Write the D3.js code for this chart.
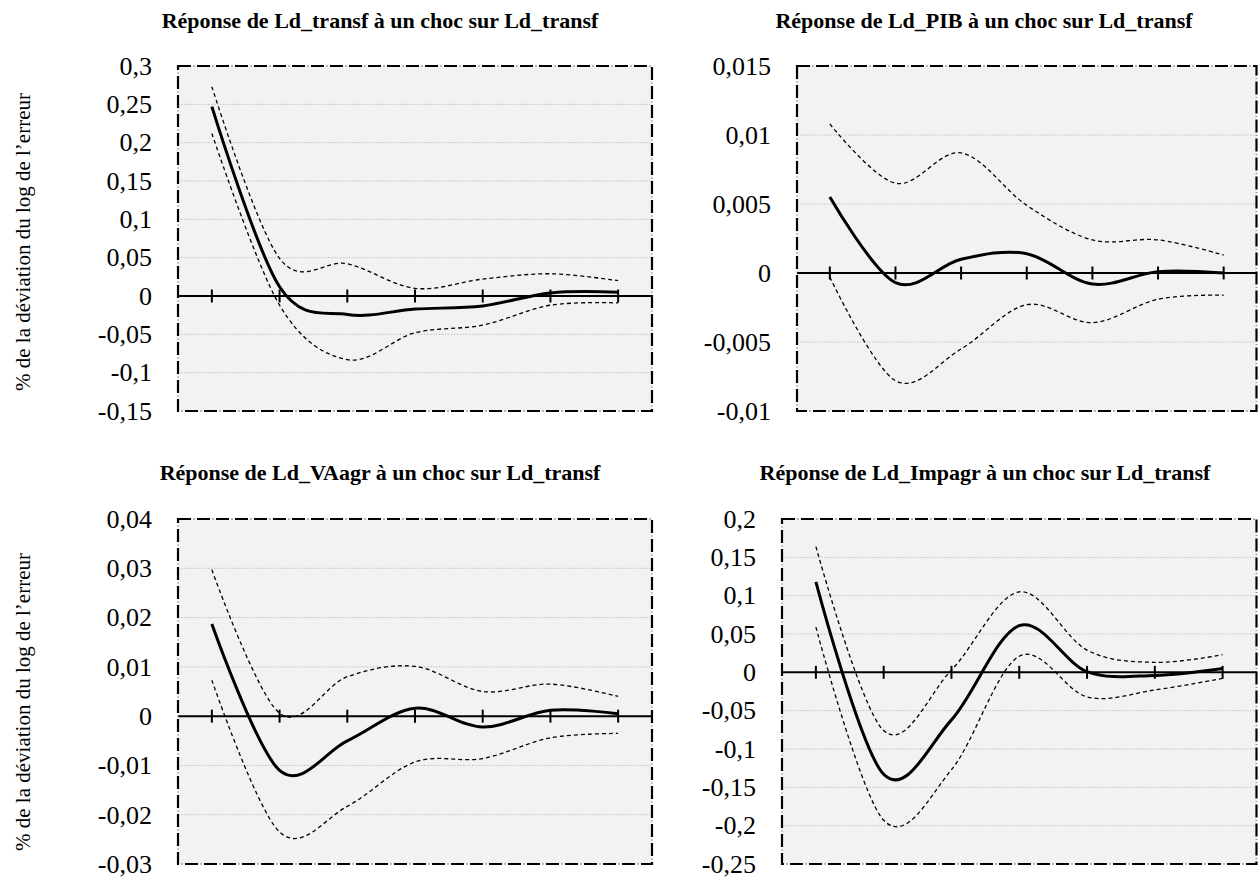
<!DOCTYPE html>
<html>
<head>
<meta charset="utf-8">
<script src="https://cdn.jsdelivr.net/npm/d3@7"></script>
<style>
  html, body { margin: 0; padding: 0; background: #ffffff; }
  svg { display: block; }
</style>
</head>
<body>
<svg id="chart" width="1258" height="880"></svg>
<script>
// ---------- DATA ----------
const periods = [1, 2, 3, 4, 5, 6, 7];

const titles = [
  "Réponse de Ld_transf à un choc sur Ld_transf",
  "Réponse de Ld_PIB à un choc sur Ld_transf",
  "Réponse de Ld_VAagr à un choc sur Ld_transf",
  "Réponse de Ld_Impagr à un choc sur Ld_transf"
];

const yAxisTitle = "% de la déviation du log de l’erreur";

const yTicksTransf  = [-0.15, -0.1, -0.05, 0, 0.05, 0.1, 0.15, 0.2, 0.25, 0.3];
const yTicksPIB     = [-0.01, -0.005, 0, 0.005, 0.01, 0.015];
const yTicksVAagr   = [-0.03, -0.02, -0.01, 0, 0.01, 0.02, 0.03, 0.04];
const yTicksImpagr  = [-0.25, -0.2, -0.15, -0.1, -0.05, 0, 0.05, 0.1, 0.15, 0.2];

// Réponse de Ld_transf
const transfIrf   = [0.247, 0.012, -0.024, -0.017, -0.013, 0.004, 0.005];
const transfUpper = [0.273, 0.049, 0.042, 0.010, 0.022, 0.029, 0.020];
const transfLower = [0.212, -0.012, -0.083, -0.048, -0.038, -0.012, -0.009];

// Réponse de Ld_PIB
const pibIrf   = [0.0055, -0.0007, 0.0010, 0.0014, -0.0008, 0.0001, 0.0000];
const pibUpper = [0.0108, 0.0065, 0.0087, 0.0049, 0.0024, 0.0024, 0.0013];
const pibLower = [-0.0003, -0.0078, -0.0055, -0.0023, -0.0036, -0.0019, -0.0016];

// Réponse de Ld_VAagr
const vaagrIrf   = [0.0187, -0.0110, -0.0050, 0.0016, -0.0022, 0.0012, 0.0005];
const vaagrUpper = [0.0297, 0.0006, 0.0080, 0.0101, 0.0050, 0.0065, 0.0040];
const vaagrLower = [0.0073, -0.0235, -0.0183, -0.0093, -0.0086, -0.0044, -0.0035];

// Réponse de Ld_Impagr
const impagrIrf   = [0.118, -0.133, -0.062, 0.061, 0.001, -0.004, 0.005];
const impagrUpper = [0.164, -0.076, 0.003, 0.105, 0.029, 0.013, 0.023];
const impagrLower = [0.059, -0.193, -0.127, 0.021, -0.032, -0.023, -0.008];

// ---------- LAYOUT ----------
const panels = [
  { title: titles[0], ticks: yTicksTransf, irf: transfIrf, up: transfUpper, lo: transfLower,
    box: { x0: 178, x1: 652, y0: 66, y1: 411 }, titleX: 380, titleY: 28, axisTitle: { x: 30, y: 242 } },
  { title: titles[1], ticks: yTicksPIB, irf: pibIrf, up: pibUpper, lo: pibLower,
    box: { x0: 797, x1: 1256.5, y0: 66, y1: 411 }, titleX: 984, titleY: 28, axisTitle: null },
  { title: titles[2], ticks: yTicksVAagr, irf: vaagrIrf, up: vaagrUpper, lo: vaagrLower,
    box: { x0: 178, x1: 652, y0: 519, y1: 864 }, titleX: 380, titleY: 480, axisTitle: { x: 30, y: 702 } },
  { title: titles[3], ticks: yTicksImpagr, irf: impagrIrf, up: impagrUpper, lo: impagrLower,
    box: { x0: 782, x1: 1256.5, y0: 519, y1: 864 }, titleX: 985, titleY: 480, axisTitle: null }
];

const svg = d3.select("#chart");
const serif = "'Liberation Serif', 'Times New Roman', serif";
const fr = d3.formatLocale({ decimal: ",", thousands: " ", grouping: [3], currency: ["", " €"], minus: "-" });
const fmt = fr.format("~g");

panels.forEach(p => {
  const b = p.box;
  const g = svg.append("g");
  const x = d3.scalePoint().domain(periods).range([b.x0, b.x1]).padding(0.5);
  const y = d3.scaleLinear().domain(d3.extent(p.ticks)).range([b.y1, b.y0]);

  // plot area
  g.append("rect")
    .attr("x", b.x0).attr("y", b.y0)
    .attr("width", b.x1 - b.x0).attr("height", b.y1 - b.y0)
    .attr("fill", "#f2f2f2");

  // gridlines
  g.append("g").selectAll("line")
    .data(p.ticks.filter(t => t !== 0 && t !== d3.min(p.ticks) && t !== d3.max(p.ticks)))
    .join("line")
    .attr("x1", b.x0).attr("x2", b.x1)
    .attr("y1", d => y(d)).attr("y2", d => y(d))
    .attr("stroke", "#bfbfbf").attr("stroke-width", 1)
    .attr("stroke-dasharray", "1.5,1.5");

  // y axis labels
  const yAxis = d3.axisLeft(y).tickValues(p.ticks).tickFormat(fmt).tickSize(0).tickPadding(26);
  const ya = g.append("g").attr("transform", `translate(${b.x0},0)`).call(yAxis);
  ya.select(".domain").remove();
  ya.attr("font-family", null).attr("font-size", null);
  ya.selectAll("text")
    .style("font-family", serif).style("font-size", "26px").attr("fill", "#000");

  // horizontal axis at zero with cross ticks
  const y0 = y(0);
  g.append("line")
    .attr("x1", b.x0).attr("x2", b.x1).attr("y1", y0).attr("y2", y0)
    .attr("stroke", "#000").attr("stroke-width", 2);
  g.append("g").selectAll("line").data(periods).join("line")
    .attr("x1", d => x(d)).attr("x2", d => x(d))
    .attr("y1", y0 - 6.5).attr("y2", y0 + 6.5)
    .attr("stroke", "#000").attr("stroke-width", 2);

  // series
  const line = d3.line()
    .x((d, i) => x(periods[i]))
    .y(d => y(d))
    .curve(d3.curveCardinal.tension(0));

  [p.up, p.lo].forEach(s => {
    g.append("path").attr("d", line(s))
      .attr("fill", "none").attr("stroke", "#000")
      .attr("stroke-width", 1.3).attr("stroke-dasharray", "4,3");
  });
  g.append("path").attr("d", line(p.irf))
    .attr("fill", "none").attr("stroke", "#000")
    .attr("stroke-width", 3).attr("stroke-linejoin", "round");

  // border: long dashes with faint dots between
  g.append("rect")
    .attr("x", b.x0).attr("y", b.y0)
    .attr("width", b.x1 - b.x0).attr("height", b.y1 - b.y0)
    .attr("fill", "none").attr("stroke", "#000")
    .attr("stroke-width", 2.2).attr("stroke-dasharray", "13,6");
  g.append("rect")
    .attr("x", b.x0).attr("y", b.y0)
    .attr("width", b.x1 - b.x0).attr("height", b.y1 - b.y0)
    .attr("fill", "none").attr("stroke", "#8c8c8c")
    .attr("stroke-width", 1.8).attr("stroke-dasharray", "1.2,17.8")
    .attr("stroke-dashoffset", -15.4);

  // title
  svg.append("text")
    .attr("x", p.titleX).attr("y", p.titleY)
    .attr("text-anchor", "middle")
    .style("font-family", serif).style("font-weight", "bold").style("font-size", "22px")
    .attr("fill", "#000")
    .text(p.title);

  // y-axis title
  if (p.axisTitle) {
    svg.append("text")
      .attr("transform", `translate(${p.axisTitle.x},${p.axisTitle.y}) rotate(-90)`)
      .attr("text-anchor", "middle")
      .style("font-family", serif).style("font-size", "21px")
      .attr("fill", "#000")
      .text(yAxisTitle);
  }
});
</script>
</body>
</html>
